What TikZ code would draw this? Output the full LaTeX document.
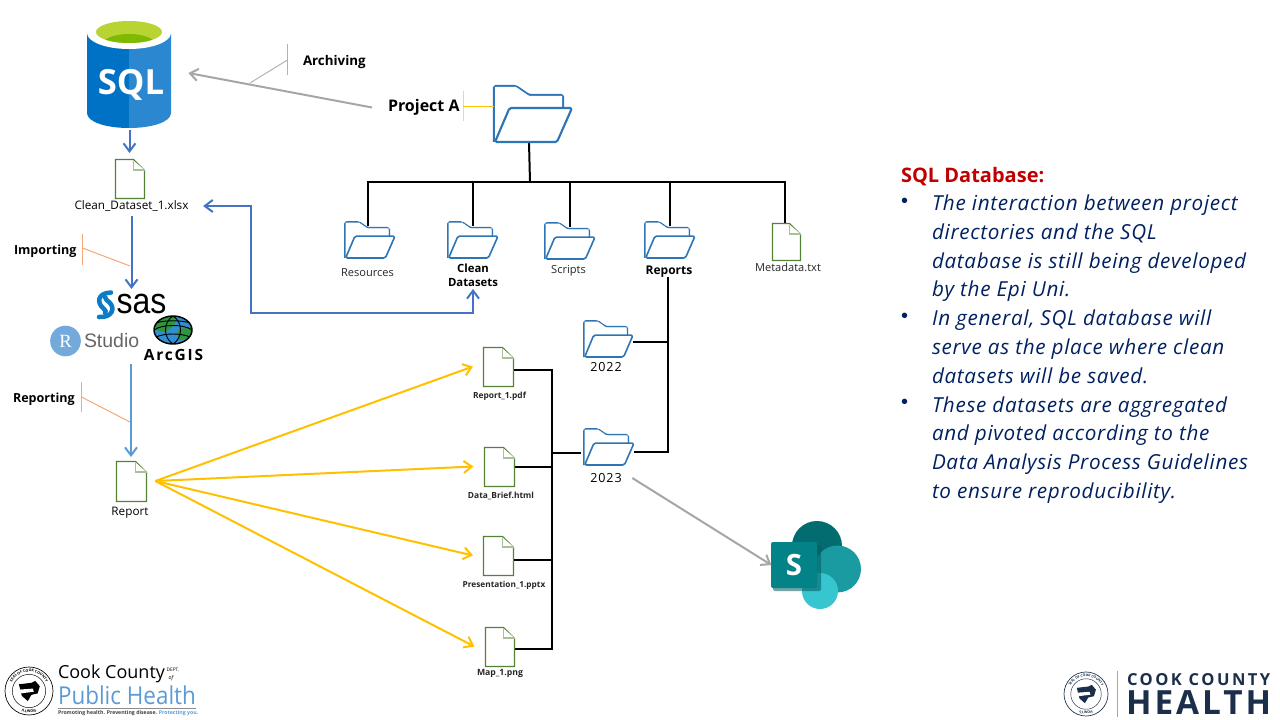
\documentclass[tikz,border=0pt]{standalone}
\usepackage{fontspec}
\usepackage{graphicx}
\usetikzlibrary{arrows.meta,calc,backgrounds,decorations.text,shapes.geometric}
\setmainfont{Open Sans}
\newfontfamily\lib{Liberation Sans}
\newfontfamily\libs{Liberation Serif}
\newfontfamily\spaced[LetterSpace=9]{Open Sans}
\newfontfamily\spacedB[LetterSpace=15]{Open Sans}
\newfontfamily\spacedC[LetterSpace=12]{Open Sans}
\newfontfamily\spacedD[LetterSpace=3.3]{Open Sans}
\newfontfamily\spacedE[LetterSpace=7]{Open Sans}
\newcommand\fsz[1]{\fontsize{#1}{#1}\selectfont}
\definecolor{fblue}{HTML}{2E75B6}
\definecolor{dgreen}{HTML}{548235}
\definecolor{lgreen}{HTML}{A9C19A}
\definecolor{aBlue}{HTML}{4472C4}
\definecolor{aSky}{HTML}{5B9BD5}
\definecolor{aGold}{HTML}{FFC000}
\definecolor{aGray}{HTML}{A6A6A6}
\definecolor{navy}{HTML}{002060}
\definecolor{logonavy}{HTML}{1B2F4B}
\definecolor{sqlA}{HTML}{0072C6}
\definecolor{sqlB}{HTML}{2B88D0}
\definecolor{limeA}{HTML}{B8D432}
\definecolor{limeB}{HTML}{7FBA00}
\definecolor{sasblue}{HTML}{0E7CC4}
\definecolor{gblue}{HTML}{2F8FD0}
\definecolor{ggreen}{HTML}{2E963C}
\definecolor{spA}{HTML}{036C70}
\definecolor{spB}{HTML}{1A9BA1}
\definecolor{spC}{HTML}{37C6D0}
\definecolor{spD}{HTML}{038387}
\definecolor{spS}{HTML}{025A5E}
\definecolor{peach}{HTML}{F4A77A}
\definecolor{sqlred}{HTML}{C00000}
\definecolor{paleGold}{HTML}{FFD966}
\tikzset{
  x=0.75pt,y=-0.75pt,
  box/.style={inner sep=0pt,outer sep=0pt},
  lbl/.style={box,font=\fsz{8.3pt},text=black!85},
  lblb/.style={box,font=\fsz{8.6pt}\bfseries,text=black,align=center},
  tree/.style={draw=black,line width=1.5pt},
  tip/.style={-{Straight Barb[length=6pt,width=9pt]}},
  conn/.style={line width=1.5pt},
  call/.style={line width=.75pt},
  body/.style={box,anchor=north west,align=left,text=navy,font=\spacedD\fontsize{15.5pt}{21.5pt}\selectfont\itshape}
}
% name, left, top, width, height
\newcommand\folderAt[6][1.2pt]{%
  \node[box,minimum width=#5*.75pt,minimum height=#6*.75pt] (#2) at ({#3+#5/2},{#4+#6/2}) {};
  \begin{scope}[shift={(#3,#4)},x={#5*.75pt/78},y={-#6*.75pt/56}]
    \draw[fblue,fill=white,line width=#1,line join=round,rounded corners=1.2pt]
      (0,56)--(0,0)--(22,0)--(35,9)--(69,9)--(69,22);
    \fill[white] (1,1)--(22,1)--(35,10)--(68,10)--(68,30)--(1,55)--cycle;
    \draw[fblue,fill=white,line width=#1,line join=round,rounded corners=1.2pt]
      (15.5,22)--(78,22)--(63,56)--(1,56)--cycle;
  \end{scope}}
\newcommand\docAt[5]{%
  \node[box,minimum width=#4*.75pt,minimum height=#5*.75pt] (#1) at ({#2+#4/2},{#3+#5/2}) {};
  \begin{scope}[shift={(#2+.5,#3+.5)}]
    \draw[dgreen,fill=white,line width=.85pt,line join=miter] (0,0)--({#4-11},0)--(#4,11)--(#4,#5)--(0,#5)--cycle;
    \draw[lgreen,fill=white,line width=.95pt] ({#4-11},1)--({#4-11},10.5)--(#4,10.5);
  \end{scope}}
% name,cx,cy,r,colour,fontsize
\newcommand\sealAt[6]{%
  \node[box,circle,draw=#5,line width=.5pt,minimum size=#4*1.5pt] (#1) at (#2,#3) {};
  \begin{scope}[shift={(#2,#3)}]
    \draw[#5,line width=.35pt] (0,0) circle[radius=#4*.52pt];
    \fill[#5] ({-#4*.42},{-#4*.28}) -- ({#4*.1},{-#4*.34}) -- ({#4*.26},{-#4*.42}) -- ({#4*.45},{-#4*.2}) -- ({#4*.36},{#4*.1}) -- ({#4*.1},{#4*.16}) -- ({-#4*.05},{#4*.42}) -- ({-#4*.3},{#4*.2}) -- cycle;
    \fill[white] ({-#4*.38},{-#4*.06}) -- ({#4*.16},{-#4*.1}) -- ({#4*.2},{#4*.03}) -- ({-#4*.34},{#4*.1}) -- cycle;
    \path[decorate,decoration={text along path,text align=center,text={|\fsz{#6}\bfseries\color{#5}|SEAL OF COOK COUNTY}}]
      (180:#4*.6pt) arc[start angle=180,end angle=0,radius=#4*.6pt];
    \path[decorate,decoration={text along path,text align=center,text={|\fsz{#6}\bfseries\color{#5}|ILLINOIS}}]
      (215:#4*.68pt) arc[start angle=215,end angle=325,radius=#4*.68pt];
  \end{scope}}
\begin{document}
\begin{tikzpicture}
\useasboundingbox (0,0) rectangle (1280,720);

% ---------- SQL cylinder
\node[box,minimum width=63pt,minimum height=83pt] (sql) at (129,73) {};
\fill[sqlA] (87,33) -- (129,33) -- (129,128) .. controls (106,128) and (87,122) .. (87,113) -- cycle;
\fill[sqlB] (129,33) -- (171,33) -- (171,113) .. controls (171,122) and (152,128) .. (129,128) -- cycle;
\fill[white] (129,33) ellipse[x radius=42,y radius=16];
\fill[limeA] (129,32) ellipse[x radius=33,y radius=11];
\begin{scope}
\clip (129,32) ellipse[x radius=33,y radius=11];
\fill[limeB] (129,45) ellipse[x radius=27,y radius=11];
\end{scope}
\node[box,text=white,font=\fsz{26pt}\bfseries] at (131,85) {SQL};

% ---------- folders and documents (drawn over the connectors)
\folderAt[1.6pt]{projA}{494}{86}{78}{56}
\folderAt{fRes}{345}{222}{50}{36}
\folderAt{fClean}{448}{222}{50}{36}
\folderAt{fScr}{545}{223}{50}{36}
\folderAt{fRep}{645}{222}{50}{36}
\folderAt{f22}{584}{321}{49}{36}
\folderAt{f23}{584}{429}{50}{36}
\docAt{dClean}{115}{159}{29}{39}
\docAt{dMeta}{772}{223}{28}{37}
\docAt{dRep1}{483}{347}{30}{39}
\docAt{dBrief}{484}{447}{30}{39}
\docAt{dPres}{483}{536}{30}{39}
\docAt{dMap}{485}{627}{29}{39}
\docAt{dReport}{116}{461}{30}{40}

% ---------- labels
\node[box,font=\fsz{10pt}\bfseries,anchor=west] (lArch) at (303,62) {Archiving};
\node[box,font=\fsz{12pt}\bfseries,anchor=west] (lProj) at (388,107.5) {Project A};
\node[box,font=\fsz{9.4pt}\bfseries,anchor=west] (lImp) at (14,251) {Importing};
\node[box,font=\fsz{9.4pt}\bfseries,anchor=west] (lRepg) at (13,399) {Reporting};
\node[lbl,text=black,font=\fsz{8.8pt}] (lClean) at (131.5,206) {Clean\_Dataset\_1.xlsx};
\node[lbl] (lRes) at (367.5,272.5) {Resources};
\node[lblb,font=\fontsize{8.5pt}{10.5pt}\selectfont\bfseries] (lCD) at (473,275) {Clean\\Datasets};
\node[lbl] (lScr) at (568.5,270.5) {Scripts};
\node[lblb,font=\fsz{9pt}\bfseries] (lRep) at (669,271.5) {Reports};
\node[lbl] (lMeta) at (788,267.5) {Metadata.txt};
\node[lblb,font=\spacedE\fsz{9.4pt}] (l22) at (606,367) {2022};
\node[lblb,font=\spacedE\fsz{9.4pt}] (l23) at (606,478) {2023};
\node[lbl,font=\fsz{6.3pt}\bfseries] (lR1) at (499.5,396) {Report\_1.pdf};
\node[lbl,font=\fsz{6.3pt}\bfseries] (lDB) at (501,496) {Data\_Brief.html};
\node[lbl,font=\fsz{6.2pt}\bfseries] (lPr) at (504,585) {Presentation\_1.pptx};
\node[lbl,font=\fsz{6.5pt}\bfseries] (lMap) at (500,673) {Map\_1.png};
\node[lbl,text=black,font=\fsz{8.8pt}] (lReport) at (130,512.5) {Report};

% ---------- software logos
\node[box,minimum width=82pt,minimum height=57pt] (tools) at (127,327) {};
\node[box,anchor=west,font=\lib\fsz{27pt}] (sas) at (116.5,303.5) {\scalebox{.89}[1]{sas}};
\draw[sasblue,line width=3.4pt,line cap=round] (111,292.5) .. controls (97,293) and (97,303) .. (103,308) .. controls (106,311) and (106,312) .. (105,313);
\draw[sasblue,line width=3.4pt,line cap=round] (105,297) .. controls (106,299) and (106,300) .. (109,302) .. controls (116,308) and (112,318) .. (99,317);
\node[box,circle,fill=aSky!85!white,minimum size=23pt] (rc) at (65.5,341) {};
\node[box,text=white,font=\libs\fsz{14pt}] at (rc) {R};
\node[box,anchor=west,text=black!60,font=\lib\fsz{14.6pt}] (rst) at (84,341) {Studio};
\begin{scope}
\clip (173,330) ellipse[x radius=19,y radius=14];
\fill[gblue] (150,312) rectangle (196,348);
\fill[ggreen] (155,318) -- (176,316) -- (174,326) -- (165,332) -- (156,330) -- cycle;
\fill[ggreen] (178,330) -- (192,326) -- (190,338) -- (178,340) -- cycle;
\draw[black,line width=.7pt] (173,316) .. controls (163,322) and (163,338) .. (173,344);
\draw[black,line width=.7pt] (173,316) .. controls (183,322) and (183,338) .. (173,344);
\draw[black,line width=.7pt] (154,330) .. controls (162,324) and (184,324) .. (192,330);
\draw[black,line width=.7pt] (156,337) .. controls (165,333) and (181,333) .. (190,337);
\draw[black,line width=.7pt] (156,323) .. controls (165,320) and (181,320) .. (190,323);
\end{scope}
\node[box,draw=black,line width=1.1pt,ellipse,minimum width=28.5pt,minimum height=21pt] (globe) at (173,330) {};
\node[box,font=\spacedC\fsz{11.6pt}\bfseries,text=black] (arc) at (173.5,355) {ArcGIS};

% ---------- SharePoint logo
\node[box,minimum width=67pt,minimum height=66pt] (sp) at (816,565) {};
\fill[spA] (817,546) circle[radius=18.75pt];
\fill[spB] (837.5,569) circle[radius=17.6pt];
\fill[spC] (820,591) circle[radius=13.5pt];
\fill[spS,opacity=.55,rounded corners=1.5pt] (773,545) rectangle (821,591);
\fill[spD,rounded corners=1.5pt] (771,542) rectangle (817,588);
\node[box,text=white,font=\fsz{22pt}\bfseries] at (794,565) {S};

% ---------- right-hand text
\node[box,anchor=west,font=\fsz{15pt}\bfseries,text=sqlred] (hdr) at (901,176.5) {SQL Database:};
\node[box,text=navy,font=\lib\fsz{15pt}] (b1) at (904.5,203) {•};
\node[box,text=navy,font=\lib\fsz{15pt}] (b2) at (904.5,318) {•};
\node[box,text=navy,font=\lib\fsz{15pt}] (b3) at (904.5,404) {•};
\node[body] (t1) at (932,195) {The interaction between project\\directories and the SQL\\database is still being developed\\by the Epi Uni.};
\node[body] (t2) at (932,310) {In general, SQL database will\\serve as the place where clean\\datasets will be saved.};
\node[body] (t3) at (932,396.5) {These datasets are aggregated\\and pivoted according to the\\Data Analysis Process Guidelines\\to ensure reproducibility.};

% ---------- footer logos
\sealAt{sealL}{29}{691}{24}{black}{2.7pt}
\node[box,anchor=west,font=\fsz{13.5pt}] (ccA) at (58,674) {Cook County};
\node[box,font=\fsz{3.6pt}] (dept) at (173,670) {DEPT.};
\node[box,font=\fsz{4pt}\itshape] (ofL) at (171,678) {of};
\node[box,anchor=west,text=aSky,font=\fsz{18.5pt}] (ph) at (58,695) {\scalebox{.91}[1]{Public Health}};
\draw[black!45,line width=.5pt] (58,708) -- (196,708);
\node[box,anchor=west,font=\fsz{3.9pt}\bfseries,text=black!75] (tag) at (58,713.5) {Promoting health. Preventing disease. {\color{aSky}Protecting you.}};
\sealAt{sealR}{1086}{694}{22}{logonavy}{2.5pt}
\node[box,minimum width=.75pt,minimum height=34pt,fill=black!35] (divr) at (1117,694) {};
\node[box,anchor=west,text=logonavy,font=\spacedB\fsz{12.4pt}\bfseries] (cch) at (1127,679.5) {COOK COUNTY};
\node[box,anchor=west,text=logonavy,font=\spaced\fsz{25pt}\bfseries] (hl) at (1126,702.5) {HEALTH};

% ---------- connectors
\begin{pgfonlayer}{background}
\coordinate (trunk) at (530,182.5);
\coordinate (rb) at (668,452);
\coordinate (db) at (552,453);
\coordinate (a22) at ([yshift=-2.25pt]f22.east);
\coordinate (a23) at ([yshift=-3.75pt]f23.east);
\coordinate (aR1) at ([yshift=-2.6pt]dRep1.east);
\coordinate (aDB) at (dBrief.east);
\coordinate (aPr) at ([yshift=-3.4pt]dPres.east);
\coordinate (aMp) at ([yshift=-2pt]dMap.east);
\coordinate (tRes) at ([xshift=-1.5pt,yshift=-3pt]fRes.north);
\coordinate (tMet) at ([xshift=-1pt]dMeta.north);
\draw[tree] ([xshift=-3pt]projA.south) -- (trunk);
\draw[tree] (tRes) -- (tRes |- trunk) -- (tMet |- trunk) -- (tMet);
\draw[tree] (fClean.north |- trunk) -- ([yshift=-3pt]fClean.north);
\draw[tree] (fScr.north |- trunk) -- ([yshift=-3pt]fScr.north);
\draw[tree] (fRep.north |- trunk) -- ([yshift=-3pt]fRep.north);
\draw[tree] (rb |- lRep.south) -- (rb) -- (a23);
\draw[tree] (a22) -- (rb |- a22);
\draw[tree] (aR1) -- (db |- aR1) -- (db |- aMp) -- (aMp);
\draw[tree] (aDB) -- (db |- aDB);
\draw[tree] (aPr) -- (db |- aPr);
\draw[tree] (db) -- ([xshift=-2pt]f23.west |- db);
\end{pgfonlayer}
\coordinate (gold) at ([xshift=7pt]dReport.east |- 0,481);
\draw[tip,aGold,line width=1.5pt] (gold) -- ([xshift=-7.5pt]dRep1.west);
\draw[tip,aGold,line width=1.5pt] (gold) -- ([xshift=-8pt]dBrief.west);
\draw[tip,aGold,line width=1.5pt] (gold) -- ([xshift=-7.5pt]dPres.west);
\draw[tip,aGold,line width=1.5pt] (gold) -- ([xshift=-8pt]dMap.west);
\draw[tip,aBlue,conn] ([yshift=-1.5pt]dClean.north |- sql.south) -- ([yshift=4.5pt]dClean.north);
\draw[tip,aBlue,conn] ([yshift=-3.5pt]lClean.south) -- (tools.north -| lClean.south);
\coordinate (rtop) at (dReport.north |- 0,364);
\draw[tip,aSky,conn] (rtop) -- ([yshift=3pt]dReport.north);
\coordinate (el1) at (251,206);
\coordinate (el2) at (251,313);
\draw[{Straight Barb[length=6pt,width=9pt]}-{Straight Barb[length=6pt,width=9pt]},aBlue,conn] ([xshift=11pt]lClean.east) -- (el1) -- (el2) -- (lCD.south |- el2) -- (lCD.south |- 0,289);
\draw[tip,aGray,conn] ([xshift=-12pt]lProj.west) -- ([xshift=13pt]sql.east);
\draw[tip,aGray,conn] ([xshift=8pt]l23.east) -- (sp.west);
% callout leaders
\coordinate (cArch) at (287.5,60);
\coordinate (cImp) at (82.5,248);
\coordinate (cRep) at (81.5,397);
\coordinate (cProj) at (463,107);
\draw[black!30,call] (287.5,44) -- (287.5,75);
\draw[black!30,call] (cArch) -- (250,83);
\draw[peach,call] (82.5,234) -- (82.5,265);
\draw[peach,call] (cImp) -- (130,266);
\draw[peach,call] (81.5,382) -- (81.5,412);
\draw[peach,call] (cRep) -- (130,422);
\draw[paleGold,call] (463,91) -- (463,121);
\draw[aGold,call] (cProj) -- (projA.west |- cProj);
\end{tikzpicture}
\end{document}
